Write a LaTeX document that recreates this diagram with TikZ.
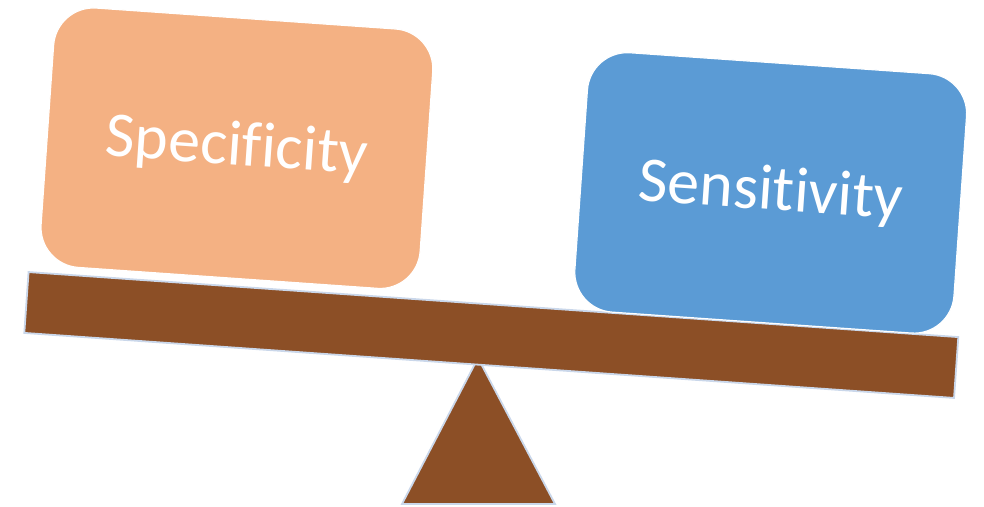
\documentclass[tikz,border=0pt]{standalone}
\usepackage{fontspec}
\setmainfont{Carlito}[RawFeature={-liga;-clig;-dlig;-calt}]
\definecolor{specfill}{HTML}{F4B183}
\definecolor{sensfill}{HTML}{5B9BD5}
\definecolor{wood}{HTML}{8C4F26}
\definecolor{edgeblue}{HTML}{CAD7EA}
\begin{document}
\begin{tikzpicture}[x=1pt,y=-1pt,
  card/.style={rounded corners=40pt, minimum width=380pt, minimum height=260pt,
    draw=white, line width=1.2pt, text=white, inner sep=0pt,
    font=\fontsize{64}{76}\selectfont, rotate=-4},
  woodpart/.style={fill=wood, draw=edgeblue, line width=1.8pt}]
\useasboundingbox (0,0) rectangle (984,506);
% fulcrum
\coordinate (apex) at (478,358);
\coordinate (bl) at (402,504);
\coordinate (br) at (555,504);
\draw[woodpart, line join=miter] (apex) -- (br) -- (bl) -- cycle;
% beam
\node[woodpart, rotate=-4, minimum width=932pt, minimum height=61pt, inner sep=0pt] (beam) at (491.3,335) {};
% cards
\node[card, fill=specfill] (spec) at (236.9,148.2) {Specificity};
\node[card, fill=sensfill] (sens) at (770.7,192.9) {Sensitivity};
\end{tikzpicture}
\end{document}
